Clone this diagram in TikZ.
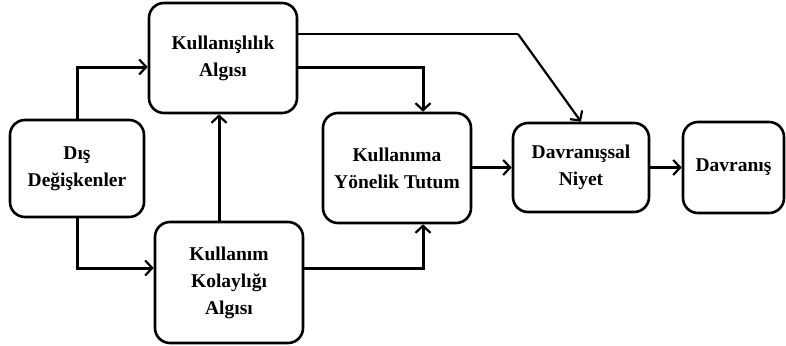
\documentclass[tikz,border=0pt]{standalone}
\usepackage{fontspec}
\setmainfont{Liberation Serif}
\usetikzlibrary{arrows.meta,calc}
\begin{document}
\begin{tikzpicture}[x=1pt,y=-1pt,
  box/.style={draw, line width=2.6pt, rounded corners=15pt, align=center,
    inner sep=0pt, font=\fontsize{19.5}{27}\selectfont\bfseries},
  arr/.style={line width=3pt, -{Straight Barb[length=7pt,width=15pt,line width=2.2pt]}},
  thinline/.style={line width=1.3pt}]
\useasboundingbox (0,0) rectangle (786,345);
% boxes
\node[box, minimum width=148pt, minimum height=110pt] (A) at (223,58) {Kullanışlılık\\Algısı};
\node[box, minimum width=134pt, minimum height=97pt] (B) at (77,168.5) {Dış\\Değişkenler};
\node[box, minimum width=148pt, minimum height=121pt] (C) at (229,282.5) {Kullanım\\Kolaylığı\\Algısı};
\node[box, minimum width=148pt, minimum height=110pt] (D) at (397,168) {Kullanıma\\Yönelik Tutum};
\node[box, minimum width=136pt, minimum height=89pt] (E) at (581,167.5) {Davranışsal\\Niyet};
\node[box, minimum width=101pt, minimum height=91pt] (F) at (733.5,167.5) {Davranış};
% bend point of the thin link to the intention box
\coordinate (k) at (518,34);
% connectors
\draw[arr] (B.north) |- ($(A.west)+(0,9)$);
\draw[arr] (B.south) |- ($(C.west)+(0,-14.5)$);
\draw[arr] ($(C.north)+(-10,0)$) -- ($(A.south)+(-4,0)$);
\draw[arr] ($(C.east)+(0,-14.5)$) -| ($(D.south)+(26,0)$);
\draw[arr] ($(A.east)+(0,9)$) -| ($(D.north)+(26,0)$);
\draw[thinline] ($(A.east)+(0,-24)$) -- (k);
\draw[arr, line width=2.2pt] (k) -- (E.north);
\draw[arr] (D.east |- E.west) -- (E.west);
\draw[arr] (E.east) -- (F.west);
\end{tikzpicture}
\end{document}
